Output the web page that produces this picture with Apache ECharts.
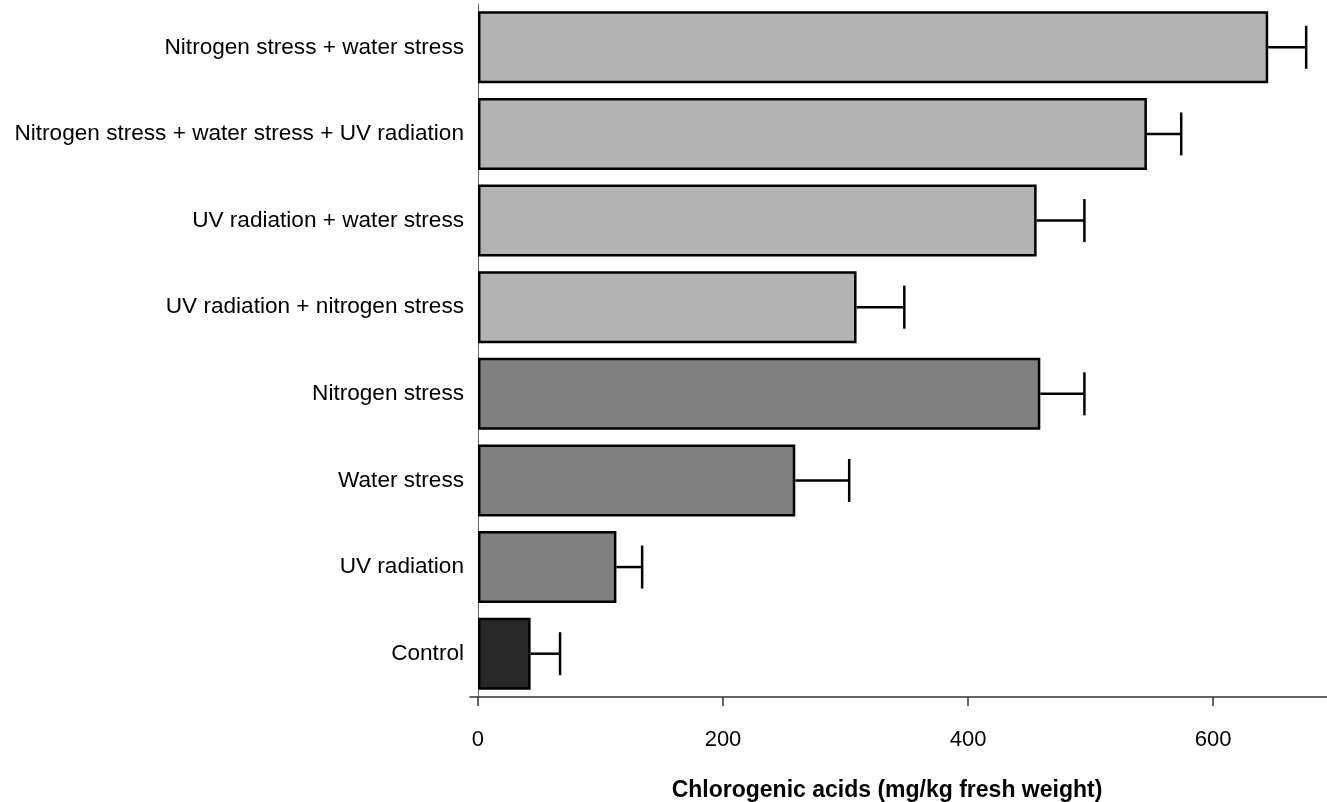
<!DOCTYPE html>
<html>
<head>
<meta charset="utf-8">
<title>Chlorogenic acids</title>
<script src="https://cdn.jsdelivr.net/npm/echarts@6/dist/echarts.min.js"></script>
<style>
  html, body { margin: 0; padding: 0; background: #fff; }
  #chart { width: 1327px; height: 802px; }
</style>
</head>
<body>
<div id="chart"></div>
<script>
// categories listed bottom to top (echarts puts the first one at the bottom)
var categories = [
    'Control',
    'UV radiation',
    'Water stress',
    'Nitrogen stress',
    'UV radiation + nitrogen stress',
    'UV radiation + water stress',
    'Nitrogen stress + water stress + UV radiation',
    'Nitrogen stress + water stress'
];
var values = [43, 113, 259, 459, 309, 456, 546, 645];
var errors = [24, 21, 44, 36, 39, 39, 28, 31];
var groups = ['control', 'single', 'single', 'single', 'combo', 'combo', 'combo', 'combo'];
var xTicks = [0, 200, 400, 600];

var groupColor = { control: '#282828', single: '#808080', combo: '#b3b3b3' };
var font = 'Liberation Sans, Arial, Helvetica, sans-serif';

var chart = echarts.init(document.getElementById('chart'));

var barData = values.map(function (v, i) {
    return { value: v, itemStyle: { color: groupColor[groups[i]] } };
});
var errData = values.map(function (v, i) {
    return [i, v, v + errors[i]];
});

var option = {
    animation: false,
    grid: { left: 470, right: 0, top: 4, bottom: 105, containLabel: false, outerBoundsMode: 'none' },
    xAxis: {
        type: 'value',
        min: -6.5,
        max: 693,
        splitLine: { show: false },
        axisLine: { show: true, lineStyle: { color: '#333', width: 1.5 } },
        axisTick: { show: true, customValues: xTicks, length: 9, lineStyle: { color: '#333', width: 1.5 } },
        axisLabel: { customValues: xTicks, margin: 32, fontSize: 22, color: '#000', fontFamily: font },
        name: 'Chlorogenic acids (mg/kg fresh weight)',
        nameLocation: 'middle',
        nameGap: 82,
        nameTextStyle: { fontSize: 23, fontWeight: 'bold', color: '#000', fontFamily: font, padding: [0, 23, 0, 0] }
    },
    yAxis: {
        type: 'category',
        data: categories,
        axisLine: { show: true, onZero: true, lineStyle: { color: '#666', width: 1 } },
        axisTick: { show: false },
        axisLabel: { margin: 6, fontSize: 22.6, color: '#000', fontFamily: font }
    },
    series: [
        {
            type: 'bar',
            data: barData,
            barCategoryGap: '17%',
            itemStyle: { borderColor: '#000', borderWidth: 2.5 }
        },
        {
            type: 'custom',
            data: errData,
            z: 1,
            renderItem: function (params, api) {
                var y = api.coord([0, api.value(0)])[1];
                var x0 = api.coord([api.value(1), api.value(0)])[0];
                var x1 = api.coord([api.value(2), api.value(0)])[0];
                var half = 21.5;
                var style = { stroke: '#000', lineWidth: 2.5 };
                return {
                    type: 'group',
                    children: [
                        { type: 'line', shape: { x1: x0, y1: y, x2: x1, y2: y }, style: style },
                        { type: 'line', shape: { x1: x1, y1: y - half, x2: x1, y2: y + half }, style: style }
                    ]
                };
            }
        }
    ]
};

chart.setOption(option);
</script>
</body>
</html>
